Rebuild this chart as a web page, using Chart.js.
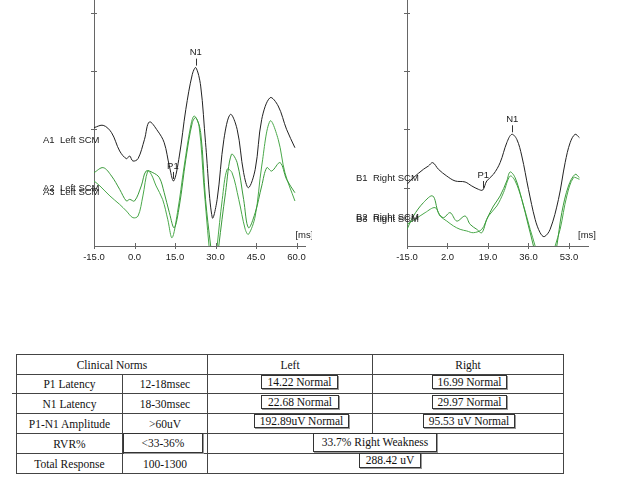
<!DOCTYPE html>
<html>
<head>
<meta charset="utf-8">
<script src="https://cdn.jsdelivr.net/npm/chart.js@4.4.0/dist/chart.umd.min.js"></script>
<style>
	body { margin: 0; background: #fff; width: 624px; height: 501px; overflow: hidden; position: relative; }
	#left { position: absolute; left: 0; top: 0; }
	#right { position: absolute; left: 312px; top: 0; }
	#norms { position: absolute; left: 16px; top: 354px; width: 547px; border-collapse: collapse; table-layout: fixed;
		font-family: "Liberation Serif", "Times New Roman", serif; font-size: 11.5px; color: #111; }
	#norms td { border: 1px solid #444; text-align: center; padding: 0; }
	.box { position: absolute; box-sizing: border-box; border: 1px solid #333; box-shadow: 1px 1px 0 #999; background: #fff;
		font-family: "Liberation Serif", "Times New Roman", serif; font-size: 11.5px; color: #111; text-align: center; white-space: nowrap; }
	.stub { position: absolute; left: 12px; top: 393px; width: 5px; height: 1px; background: #444; }
</style>
</head>
<body>

<canvas id="left" width="312" height="270"></canvas>
<canvas id="right" width="312" height="270"></canvas>

<table id="norms">
	<colgroup><col style="width:106px"><col style="width:85px"><col style="width:165px"><col style="width:191px"></colgroup>
	<tr style="height:20px"><td colspan="2">Clinical Norms</td><td>Left</td><td>Right</td></tr>
	<tr style="height:19px"><td>P1 Latency</td><td>12-18msec</td><td></td><td></td></tr>
	<tr style="height:20px"><td>N1 Latency</td><td>18-30msec</td><td></td><td></td></tr>
	<tr style="height:20px"><td>P1-N1 Amplitude</td><td>&gt;60uV</td><td></td><td></td></tr>
	<tr style="height:20px"><td>RVR%</td><td></td><td colspan="2"></td></tr>
	<tr style="height:20px"><td>Total Response</td><td>100-1300</td><td colspan="2"></td></tr>
</table>
<div class="stub"></div>

<div class="box" style="left:261px;top:375px;width:77px;height:14px;line-height:12px">14.22 Normal</div>
<div class="box" style="left:432px;top:375px;width:75px;height:14px;line-height:12px">16.99 Normal</div>
<div class="box" style="left:261px;top:395px;width:78px;height:14px;line-height:12px">22.68 Normal</div>
<div class="box" style="left:432px;top:395px;width:75px;height:14px;line-height:12px">29.97 Normal</div>
<div class="box" style="left:254px;top:414px;width:95px;height:14px;line-height:12px">192.89uV Normal</div>
<div class="box" style="left:423px;top:414px;width:92px;height:14px;line-height:12px">95.53 uV Normal</div>
<div class="box" style="left:123px;top:433px;width:80px;height:20px;line-height:18px">&lt;33-36%</div>
<div class="box" style="left:313px;top:433px;width:124px;height:19px;line-height:17px">33.7% Right Weakness</div>
<div class="box" style="left:359px;top:453px;width:62px;height:15px;line-height:13px">288.42 uV</div>

<script>

	/* Tick labels */
	var yTicks = [0, 50, 100, 150, 200];
	var leftTicks = [-15, 0, 15, 30, 45, 60];
	var rightTicks = [-15, 2, 19, 36, 53];

	/* Left SCM traces (ms / uV) */
	var a1Ms = [-15, -11.6, -8.5, -5.5, -3.0, -1.8, -0.6, 1.3, 3.7, 5.5, 8.6, 11.0, 12.9, 14.5, 16.6, 19.0, 21.4, 22.7, 24.5, 26.3, 28.8, 30.6, 33.1, 35.5, 38.0, 40.4, 42.2, 44.7, 47.1, 50.2, 53.2, 56.3, 59.4];
	var a1Uv = [101.5, 103.5, 97.2, 81.5, 74.9, 77.2, 72.9, 74.9, 91.5, 106.4, 98.6, 88.6, 68.6, 55.8, 77.2, 117.2, 147.2, 153.0, 137.2, 88.6, 24.3, 40.0, 91.5, 112.9, 100.1, 62.9, 50.0, 65.8, 108.6, 127.2, 120.1, 100.1, 84.3];

	var a2Ms = [-15, -11.6, -8.5, -5.5, -3.0, -1.8, 0.0, 2.5, 4.3, 6.8, 9.2, 11.0, 12.9, 14.7, 16.6, 19.0, 21.4, 22.7, 24.5, 26.3, 28.2, 29.2, 30.4, 31.2, 33.7, 35.9, 38.0, 40.4, 42.2, 44.7, 47.1, 49.0, 50.8, 53.9, 56.3, 59.4];
	var a2Uv = [62.9, 67.2, 60.0, 48.6, 38.6, 40.0, 38.6, 51.5, 64.3, 62.9, 58.6, 45.7, 28.6, 15.7, 34.3, 74.3, 105.8, 110.1, 97.2, 40.0, 0, -17, -17, 0, 45.7, 78.6, 71.5, 40.0, 15.7, 28.6, 51.5, 67.2, 64.3, 71.5, 57.2, 45.7];

	var a3Ms = [-15, -12.8, -9.1, -5.5, -3.0, -0.6, 1.3, 3.1, 4.9, 6.2, 8.0, 10.4, 12.3, 13.9, 15.9, 18.4, 20.8, 22.1, 23.9, 25.7, 27.6, 28.5, 29.8, 30.6, 32.5, 34.3, 36.1, 38.6, 41.0, 42.2, 44.7, 47.1, 50.2, 53.2, 55.7, 59.4];
	var a3Uv = [55.8, 51.5, 42.9, 35.7, 30.0, 24.3, 25.7, 42.9, 64.3, 61.5, 51.5, 40.0, 22.9, 7.1, 28.6, 68.6, 102.9, 111.5, 102.9, 51.5, 0, -17, -17, 0, 40.0, 65.8, 62.9, 40.0, 14.3, 10.0, 25.7, 68.6, 107.2, 91.5, 62.9, 38.6];

	/* Right SCM traces (ms / uV) */
	var b1Ms = [-15, -12.3, -8.1, -6.0, -4.2, -1.8, 1.7, 5.2, 9.4, 12.2, 15.0, 16.8, 18.5, 21.3, 24.1, 26.9, 29.0, 31.1, 33.2, 36.0, 38.8, 40.9, 42.6, 45.1, 48.6, 51.4, 53.5, 55.6, 57.4];
	var b1Uv = [52.9, 58.6, 65.8, 68.6, 71.5, 65.8, 60.0, 55.8, 54.9, 51.5, 48.6, 48.0, 55.8, 61.5, 71.5, 88.6, 95.8, 91.5, 77.2, 48.6, 22.9, 11.4, 8.0, 14.3, 40.0, 71.5, 88.6, 95.8, 92.9];

	var b2Ms = [-15, -12.3, -8.1, -4.2, -1.8, 0.3, 3.1, 5.9, 9.4, 11.5, 14.3, 16.4, 18.5, 21.3, 24.1, 26.9, 28.3, 30.4, 33.2, 36.0, 38.1, 39.5, 46.5, 47.9, 50.0, 52.8, 55.6, 57.4];
	var b2Uv = [14.3, 25.7, 37.2, 42.9, 28.6, 24.3, 28.6, 21.4, 25.7, 18.6, 14.3, 11.4, 22.9, 34.3, 42.9, 55.8, 63.5, 58.6, 40.0, 17.2, 0, -14, -14, 0, 28.6, 51.5, 61.5, 58.6];

	var b3Ms = [-15, -11.6, -7.4, -3.2, -1.1, 1.7, 4.5, 7.3, 10.1, 12.9, 16.4, 19.2, 22.7, 25.5, 28.3, 30.4, 33.2, 36.7, 38.8, 40.2, 45.8, 47.2, 49.3, 52.1, 54.9, 57.4];
	var b3Uv = [18.6, 22.9, 28.6, 32.9, 25.7, 21.4, 17.2, 14.3, 12.9, 11.4, 14.3, 25.7, 34.3, 45.7, 60.0, 55.8, 40.0, 14.3, 0, -14, -14, 0, 14.3, 42.9, 58.6, 57.2];

	/* Channel labels and peak marks */
	var leftLabels = ['A1  Left SCM', 'A2  Left SCM', 'A3  Left SCM'];
	var leftLabelUv = [90.3, 49.7, 46.3];
	var rightLabels = ['B1  Right SCM', 'B2  Right SCM', 'B3  Right SCM'];
	var rightLabelUv = [58.1, 24.9, 22.9];

	var peakNames = ['P1', 'N1'];
	var leftPeakMs = [14.22, 22.68];
	var leftPeakUv = [55.8, 153.0];
	var rightPeakMs = [16.99, 29.2];
	var rightPeakUv = [48.0, 95.8];

	var traceColors = ['#222222', '#3a9a3a', '#4aa84a'];
	var axisColor = '#666666';
	var textFont = '"Liberation Sans", Arial, sans-serif';


	/* ********************************

	    Plugin - labels, peaks, ticks

	******************************** */

	var traceMarks = {
		id: 'traceMarks',
		afterDraw: function(chart, args, opts) {
			var ctx = chart.ctx;
			var xs = chart.scales.x;
			var ys = chart.scales.y;
			var area = chart.chartArea;

			ctx.save();
			ctx.strokeStyle = axisColor;
			ctx.lineWidth = 1;

			// ticks crossing the axes
			xs.ticks.forEach(function(t) {
				var px = Math.round(xs.getPixelForValue(t.value)) + 0.5;
				ctx.beginPath();
				ctx.moveTo(px, area.bottom - 3);
				ctx.lineTo(px, area.bottom + 3);
				ctx.stroke();
			});
			yTicks.forEach(function(v) {
				if (v === 0) return;
				var py = Math.round(ys.getPixelForValue(v)) + 0.5;
				ctx.beginPath();
				ctx.moveTo(area.left - 3, py);
				ctx.lineTo(area.left + 3, py);
				ctx.stroke();
			});

			ctx.font = '9.5px ' + textFont;
			ctx.fillStyle = '#222';
			ctx.textBaseline = 'middle';

			// channel names
			ctx.textAlign = 'left';
			opts.labels.forEach(function(txt, i) {
				ctx.fillText(txt, area.left - 51, ys.getPixelForValue(opts.labelUv[i]));
			});

			// P1 / N1
			ctx.textAlign = 'center';
			ctx.strokeStyle = '#333';
			opts.peakMs.forEach(function(ms, i) {
				var px = xs.getPixelForValue(ms);
				var py = ys.getPixelForValue(opts.peakUv[i]);
				ctx.fillText(peakNames[i], px, py - 15);
				ctx.beginPath();
				ctx.moveTo(Math.round(px) + 0.5, py - 9);
				ctx.lineTo(Math.round(px) + 0.5, py - 2);
				ctx.stroke();
			});

			ctx.textAlign = 'left';
			ctx.fillText('[ms]', area.right - 10, area.bottom - 11);
			ctx.restore();
		}
	};


	/* ********************************

	    Chart - one side

	******************************** */

	function buildTraceChart(canvasId, msList, uvList, xTicks, xMax, axisWidth, padRight, marks) {

		var datasets = [];
		msList.forEach(function(msArr, i) {
			datasets.push({
				data: msArr.map(function(m, j) { return { x: m, y: uvList[i][j] }; }),
				borderColor: traceColors[i],
				borderWidth: 1,
				pointRadius: 0,
				tension: 0.35,
				fill: false
			});
		});

		return new Chart(document.getElementById(canvasId), {
			type: 'line',
			data: { datasets: datasets },
			plugins: [traceMarks],
			options: {
				responsive: false,
				animation: false,
				layout: { padding: { top: 0, left: 0, bottom: 0, right: padRight } },
				plugins: {
					legend: { display: false },
					tooltip: { enabled: false },
					traceMarks: marks
				},
				scales: {
					x: {
						type: 'linear',
						min: -15,
						max: xMax,
						grid: { display: false, drawTicks: false },
						border: { display: true, color: axisColor, width: 1 },
						afterBuildTicks: function(scale) {
							scale.ticks = xTicks.map(function(v) { return { value: v }; });
						},
						afterFit: function(scale) { scale.height = 24; },
						ticks: {
							padding: 6,
							color: '#222',
							font: { family: textFont, size: 9.5 },
							maxRotation: 0,
							callback: function(v) { return v.toFixed(1); }
						}
					},
					y: {
						min: 0,
						max: 211,
						grid: { display: false, drawTicks: false },
						border: { display: true, color: axisColor, width: 1 },
						ticks: { display: false },
						afterFit: function(scale) { scale.width = axisWidth; }
					}
				}
			}
		});
	};

	buildTraceChart('left', [a1Ms, a2Ms, a3Ms], [a1Uv, a2Uv, a3Uv], leftTicks, 63.3, 94, 5,
		{ labels: leftLabels, labelUv: leftLabelUv, peakMs: leftPeakMs, peakUv: leftPeakUv });

	buildTraceChart('right', [b1Ms, b2Ms, b3Ms], [b1Uv, b2Uv, b3Uv], rightTicks, 61, 95, 36,
		{ labels: rightLabels, labelUv: rightLabelUv, peakMs: rightPeakMs, peakUv: rightPeakUv });

</script>
</body>
</html>
